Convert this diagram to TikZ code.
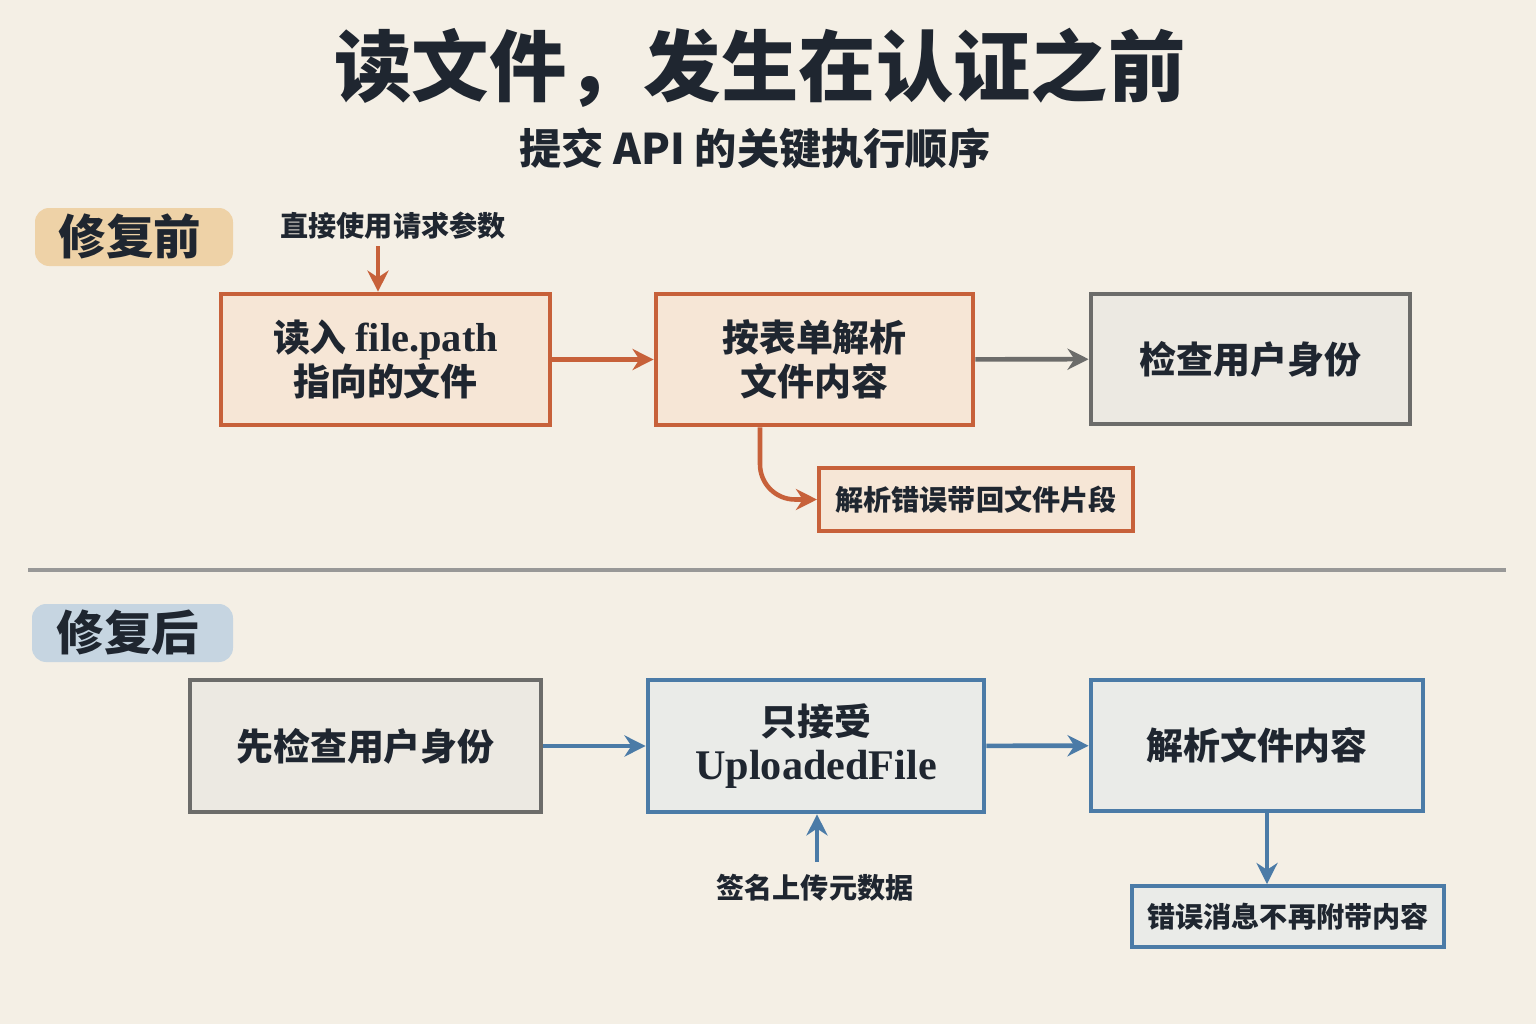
\documentclass[tikz,border=0pt]{standalone}
\usepackage{fontspec}
\usetikzlibrary{arrows.meta}
\newfontfamily\cjk{Noto Sans CJK SC}
\newfontfamily\latin{Liberation Serif}
\definecolor{paper}{HTML}{F4EFE5}
\definecolor{ink}{HTML}{1F2630}
\definecolor{rust}{HTML}{C7613A}
\definecolor{rustfill}{HTML}{F6E6D6}
\definecolor{slate}{HTML}{6C6C6A}
\definecolor{slatefill}{HTML}{ECE9E2}
\definecolor{steel}{HTML}{4B7BA7}
\definecolor{steelfill}{HTML}{EAEBE8}
\definecolor{sand}{HTML}{EDC993}
\definecolor{mist}{HTML}{B7CDE0}
\tikzset{
  stepbase/.style={draw,line width=1.3pt,align=center,text=ink,
    font=\cjk\bfseries\fontsize{10.5pt}{12.5pt}\selectfont,inner sep=0pt},
  rustbox/.style={stepbase,draw=rust,fill=rustfill},
  slatebox/.style={stepbase,draw=slate,fill=slatefill},
  steelbox/.style={stepbase,draw=steel,fill=steelfill},
  notebox/.style={font=\cjk\bfseries\fontsize{8pt}{10pt}\selectfont,text=ink},
  flow/.style={-{Stealth[length=6pt,width=6pt]},line width=1.3pt},
}
\begin{document}
\begin{tikzpicture}[x=0.01cm,y=-0.01cm]
    \fill[paper] (0,0) rectangle (1536,1024);

    % titles
    \node[text=ink,font=\cjk\bfseries\fontsize{22pt}{26pt}\selectfont] (title) at (760,68)
        {读文件，发生在认证之前};
    \node[text=ink,font=\cjk\bfseries\fontsize{12pt}{14pt}\selectfont] (subtitle) at (755,148)
        {提交 API 的关键执行顺序};

    % before
    \fill[sand,opacity=0.75,rounded corners=4pt] (35,208) rectangle (233,266);
    \node[text=ink,font=\cjk\bfseries\fontsize{13.5pt}{16pt}\selectfont] (before) at (130,236) {修复前};

    \node[notebox] (param) at (393,226) {直接使用请求参数};
    \coordinate (paramfoot) at (378,246);
    \node[rustbox,minimum width=3.29cm,minimum height=1.31cm] (read) at (385.5,359.5)
        {读入 {\latin\fontsize{11.5pt}{12.5pt}\selectfont file.path}\\指向的文件};
    \node[rustbox,minimum width=3.17cm,minimum height=1.31cm] (parse) at (814.5,359.5)
        {按表单解析\\文件内容};
    \node[slatebox,minimum width=3.19cm,minimum height=1.30cm] (auth) at (1250.5,359)
        {检查用户身份};
    \node[rustbox,line width=1.1pt,font=\cjk\bfseries\fontsize{8pt}{10pt}\selectfont,
          minimum width=3.14cm,minimum height=0.63cm] (leak) at (976,499.5)
        {解析错误带回文件片段};

    \draw[flow,rust] (paramfoot) -- (paramfoot |- read.north);
    \draw[flow,rust] (read) -- (parse);
    \draw[flow,slate] (parse) -- (auth);
    \draw[flow,rust,rounded corners=10pt] (parse.south -| 760,0) |- (leak.west);

    % divider
    \draw[slate!70,line width=1pt] (28,570) -- (1506,570);

    % after
    \fill[mist,opacity=0.75,rounded corners=4pt] (32,604) rectangle (233,662);
    \node[text=ink,font=\cjk\bfseries\fontsize{13.5pt}{16pt}\selectfont] (after) at (128,632) {修复后};

    \node[slatebox,minimum width=3.51cm,minimum height=1.32cm] (check) at (365.5,746)
        {先检查用户身份};
    \node[steelbox,minimum width=3.36cm,minimum height=1.32cm] (accept) at (816,746)
        {只接受\\{\latin\fontsize{12pt}{12.5pt}\selectfont UploadedFile}};
    \node[steelbox,minimum width=3.32cm,minimum height=1.31cm] (parse2) at (1257,745.5)
        {解析文件内容};
    \node[steelbox,line width=1.1pt,font=\cjk\bfseries\fontsize{8pt}{10pt}\selectfont,
          minimum width=3.12cm,minimum height=0.61cm] (safe) at (1288,916.5)
        {错误消息不再附带内容};
    \node[notebox] (meta) at (815,888) {签名上传元数据};
    \coordinate (metatop) at (817,862);

    \draw[flow,steel] (check) -- (accept);
    \draw[flow,steel] (accept) -- (parse2);
    \draw[flow,steel] (metatop) -- (metatop |- accept.south);
    \draw[flow,steel] (parse2.south -| 1267,0) -- (safe.north -| 1267,0);
\end{tikzpicture}
\end{document}
